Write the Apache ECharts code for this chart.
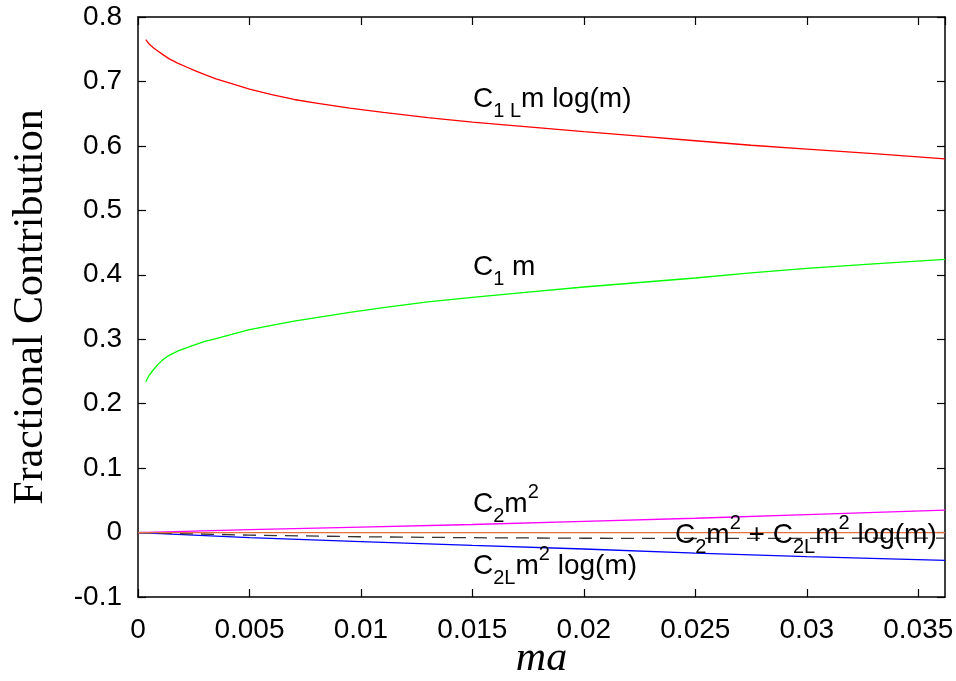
<!DOCTYPE html>
<html><head><meta charset="utf-8">
<script src="https://cdn.jsdelivr.net/npm/echarts@6/dist/echarts.min.js"></script>
<style>html,body{margin:0;padding:0;background:#fff}#c{width:956px;height:681px}</style>
</head><body><div id="c"></div>
<script>
// x values (ma) for the two leading curves
const xDense = [0.00035, 0.0005, 0.0007, 0.0009, 0.0011, 0.0014, 0.0018, 0.0022, 0.0026, 0.003, 0.0035, 0.0042, 0.005, 0.006, 0.007, 0.008, 0.0095, 0.011, 0.013, 0.015, 0.0175, 0.02, 0.0225, 0.025, 0.0275, 0.03, 0.033, 0.0362];
const c1Lm = [0.765, 0.758, 0.752, 0.747, 0.742, 0.735, 0.728, 0.722, 0.716, 0.7105, 0.704, 0.6965, 0.688, 0.6795, 0.672, 0.6665, 0.6585, 0.652, 0.644, 0.637, 0.6295, 0.622, 0.615, 0.608, 0.601, 0.595, 0.588, 0.580];
const c1m  = [0.234, 0.244, 0.253, 0.261, 0.268, 0.275, 0.282, 0.287, 0.292, 0.2965, 0.301, 0.3075, 0.315, 0.3215, 0.328, 0.3335, 0.3415, 0.349, 0.358, 0.365, 0.373, 0.381, 0.388, 0.395, 0.403, 0.410, 0.417, 0.424];
// x values for the small terms
const xSparse = [0, 0.005, 0.01, 0.015, 0.02, 0.025, 0.03, 0.0362];
const c2m2   = [0, 0.0045, 0.0085, 0.0125, 0.0172, 0.0222, 0.0277, 0.0348];
const c2Lm2  = [0, -0.0080, -0.0140, -0.0198, -0.0255, -0.0318, -0.0374, -0.0432];
const c2Sum  = [0, -0.0040, -0.0065, -0.0080, -0.0088, -0.0092, -0.0090, -0.0085];
const zeroTerm = [0, 0, 0, 0, 0, 0, 0, 0];
const xMin = 0, xMax = 0.0362, xStep = 0.005;
const yMin = -0.1, yMax = 0.8, yStep = 0.1;

const pairs = (xs, ys) => xs.map((x, i) => [x, ys[i]]);
const sans = 'Liberation Sans, Arial, sans-serif';
const serif = 'Liberation Serif, Times New Roman, serif';

const axisCommon = {
  type: 'value',
  axisLine: { show: true, onZero: false, lineStyle: { color: '#000', width: 1.5 } },
  axisTick: { show: true, inside: true, length: 8, lineStyle: { color: '#000', width: 1.2 } },
  splitLine: { show: false }
};
const lbl = { color: '#000', fontSize: 28, fontFamily: sans };

const chart = echarts.init(document.getElementById('c'));
const lineSeries = (name, data, color, extra) => Object.assign({
  name, type: 'line', data, showSymbol: false, symbol: 'none',
  lineStyle: { color, width: 1.3 }, itemStyle: { color }, animation: false
}, extra || {});

chart.setOption({
  animation: false,
  backgroundColor: '#fff',
  grid: { left: 138, right: 11, top: 17, bottom: 84, containLabel: false, outerBoundsMode: 'none' },
  xAxis: [
    Object.assign({}, axisCommon, {
      min: xMin, max: xMax, interval: xStep, position: 'bottom',
      axisLabel: Object.assign({}, lbl, { margin: 19, showMaxLabel: false }),
      name: 'ma', nameLocation: 'middle', nameGap: 41, nameMoveOverlap: false,
      nameTextStyle: { color: '#000', fontSize: 42, fontStyle: 'italic', fontFamily: serif }
    }),
    Object.assign({}, axisCommon, {
      min: xMin, max: xMax, interval: xStep, position: 'top',
      axisLabel: { show: false }
    })
  ],
  yAxis: [
    Object.assign({}, axisCommon, {
      min: yMin, max: yMax, interval: yStep, position: 'left',
      axisLabel: Object.assign({}, lbl, { margin: 16 }),
      name: 'Fractional Contribution', nameLocation: 'middle', nameGap: 86, nameMoveOverlap: false,
      nameTextStyle: { color: '#000', fontSize: 42, fontFamily: serif }
    }),
    Object.assign({}, axisCommon, {
      min: yMin, max: yMax, interval: yStep, position: 'right',
      axisLabel: { show: false }
    })
  ],
  series: [
    lineSeries('C1L m log(m)', pairs(xDense, c1Lm), '#ff0000'),
    lineSeries('C1 m', pairs(xDense, c1m), '#00ff00'),
    lineSeries('C2 m^2', pairs(xSparse, c2m2), '#ff00ff'),
    lineSeries('C2L m^2 log(m)', pairs(xSparse, c2Lm2), '#0000ff'),
    lineSeries('sum', pairs(xSparse, c2Sum), '#333333', { lineStyle: { color: '#333', width: 1.3, type: [13, 8] } }),
    lineSeries('zero', pairs(xSparse, zeroTerm), '#e8703f')
  ]
});

const rich = {
  a: { fontSize: 28, lineHeight: 44, fontFamily: sans, color: '#000' },
  s: { fontSize: 20, lineHeight: 24, fontFamily: sans, color: '#000', verticalAlign: 'bottom' },
  p: { fontSize: 20, lineHeight: 27, fontFamily: sans, color: '#000', verticalAlign: 'top' }
};
const labels = [
  { t: '{a|C}{s|1 L}{a|m log(m)}', x: 473, y: 99 },
  { t: '{a|C}{s|1}{a| m}', x: 473, y: 267 },
  { t: '{a|C}{s|2}{a|m}{p|2}', x: 473, y: 504 },
  { t: '{a|C}{s|2L}{a|m}{p|2}{a| log(m)}', x: 473, y: 566 },
  { t: '{a|C}{s|2}{a|m}{p|2}{a| + C}{s|2L}{a|m}{p|2}{a| log(m)}', x: 675, y: 535 }
];
chart.setOption({
  graphic: labels.map(l => ({
    type: 'text', x: l.x, y: l.y, z: 100,
    style: { text: l.t, rich, align: 'left', verticalAlign: 'middle', textAlign: 'left', textVerticalAlign: 'middle' }
  }))
});
</script>
</body></html>
